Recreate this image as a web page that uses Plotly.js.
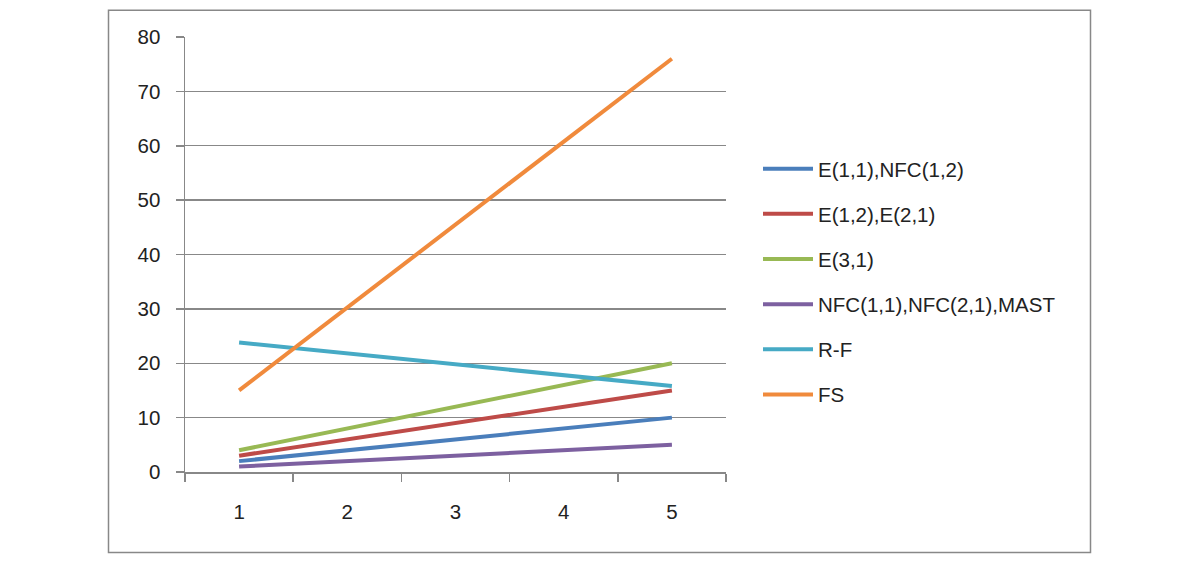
<!DOCTYPE html>
<html><head><meta charset="utf-8">
<script src="https://cdn.plot.ly/plotly-3.0.1.min.js"></script>
<style>html,body{margin:0;padding:0;background:#fff}#chart{width:1200px;height:563px}</style>
</head><body><div id="chart"></div>
<script>
const categories = ['1', '2', '3', '4', '5'];
const seriesNames = ['E(1,1),NFC(1,2)', 'E(1,2),E(2,1)', 'E(3,1)', 'NFC(1,1),NFC(2,1),MAST', 'R-F', 'FS'];
const sE11 = [2, 4, 6, 8, 10];
const sE12 = [3, 6, 9, 12, 15];
const sE31 = [4, 8, 12, 16, 20];
const sNFC = [1, 2, 3, 4, 5];
const sRF = [23.8, 21.8, 19.8, 17.8, 15.8];
const sFS = [15, 30.2, 45.4, 60.7, 76];
const seriesValues = [sE11, sE12, sE31, sNFC, sRF, sFS];
const colors = ['#4A7EBB', '#BE4B48', '#98B954', '#7D60A0', '#46AAC5', '#F08A3C'];

const traces = seriesNames.map((n, i) => ({
  type: 'scatter', mode: 'lines', name: n, x: categories, y: seriesValues[i],
  line: {color: colors[i], width: 4}, legendgroup: 'g' + i
}));

const L = 185, R = 726, T = 37.3, B = 471.7, W = 1200, H = 563;
const pw = R - L, ph = B - T;
const px = v => (v - L) / pw, py = v => (B - v) / ph;

const layout = {
  width: W, height: H,
  margin: {l: L, r: W - R, t: T, b: H - B, pad: 0},
  paper_bgcolor: '#fff', plot_bgcolor: '#fff',
  font: {family: 'Liberation Sans, Arial, sans-serif', size: 20.5, color: '#222'},
  showlegend: true,
  legend: {x: px(758), y: py(149), xanchor: 'left', yanchor: 'top', tracegroupgap: 15.5,
           itemwidth: 50, font: {size: 20.5, color: '#222'}, bgcolor: 'rgba(0,0,0,0)'},
  xaxis: {type: 'category', range: [-0.5, 4.5], tickson: 'boundaries', ticks: 'outside', ticklen: 8, tickcolor: '#888',
          tickwidth: 1.5, showline: true, linecolor: '#888', linewidth: 1.5, showgrid: false,
          zeroline: false, ticklabelstandoff: 21, fixedrange: true},
  yaxis: {range: [0, 80], dtick: 10, ticks: 'outside', ticklen: 8, tickcolor: '#888', tickwidth: 1.5,
          showline: true, linecolor: '#888', linewidth: 1.5, showgrid: true, gridcolor: '#888',
          gridwidth: 1.3, zeroline: false, ticklabelstandoff: 11, fixedrange: true},
  shapes: [{type: 'rect', xref: 'paper', yref: 'paper', x0: px(108.5), x1: px(1090.5), y0: py(552), y1: py(10.5),
            line: {color: '#888', width: 1.5}, fillcolor: 'rgba(0,0,0,0)', layer: 'below'}]
};
Plotly.newPlot('chart', traces, layout, {displayModeBar: false, staticPlot: true});
</script></body></html>
